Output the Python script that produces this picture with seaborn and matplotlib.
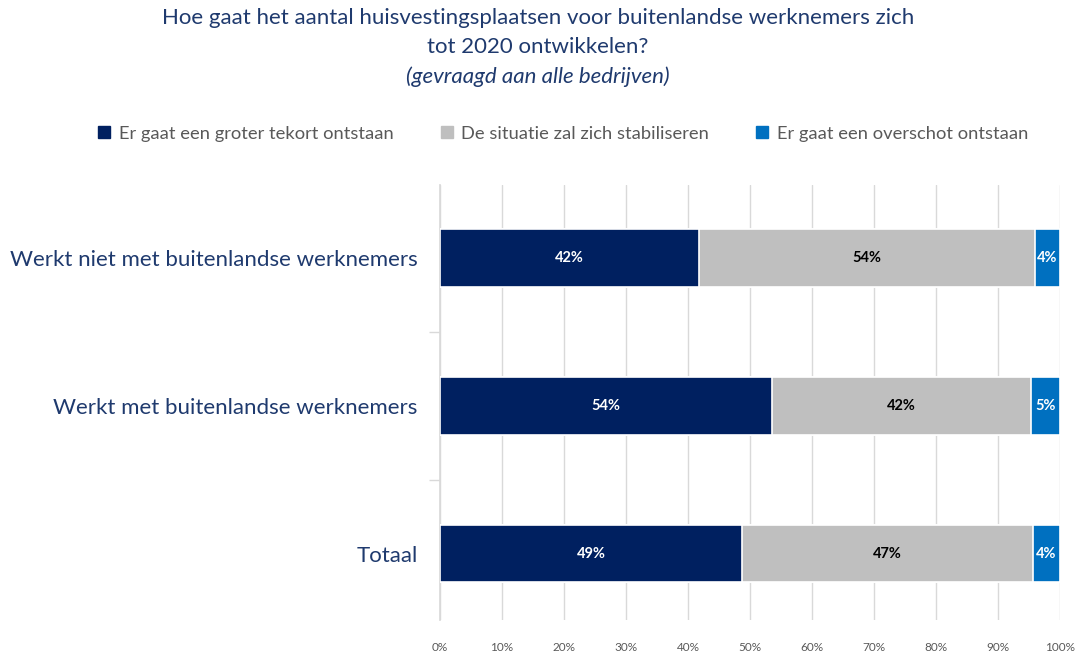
import pandas as pd
import matplotlib.pyplot as plt
import seaborn as sns
from matplotlib.lines import Line2D
from matplotlib.ticker import PercentFormatter

# data
groups = ['Werkt niet met buitenlandse werknemers',
          'Werkt met buitenlandse werknemers',
          'Totaal']
series = ['Er gaat een groter tekort ontstaan',
          'De situatie zal zich stabiliseren',
          'Er gaat een overschot ontstaan']
tekort = [41.8, 53.5, 48.7]
stabiel = [54.2, 41.8, 46.9]
overschot = [4.0, 4.7, 4.4]

colors = ['#002060', '#BFBFBF', '#0070C0']
text_colors = ['white', 'black', 'white']
navy = '#1F3A6E'

sns.set_theme(style='white')
plt.rcParams['font.family'] = ['Lato', 'DejaVu Sans']

df = pd.DataFrame({'Groep': groups, 'tekort': tekort,
                   'stabiel': stabiel, 'overschot': overschot})
df['c1'] = df['tekort']
df['c2'] = df['tekort'] + df['stabiel']
df['c3'] = df['c2'] + df['overschot']

fig = plt.figure(figsize=(10.76, 6.52), dpi=100)
ax = fig.add_axes([0.409, 0.049, 0.576, 0.667])

# stacked bars: draw cumulative totals back to front
for col, c in zip(['c3', 'c2', 'c1'], colors[::-1]):
    sns.barplot(data=df, y='Groep', x=col, color=c, orient='h',
                width=0.39, edgecolor='white', linewidth=1.2, ax=ax,
                zorder=3, saturation=1)

# labels in the segments
for i, g in enumerate(groups):
    vals = [tekort[i], stabiel[i], overschot[i]]
    start = 0
    for v, tc in zip(vals, text_colors):
        ax.text(start + v / 2, i, f'{v:.0f}%', ha='center', va='center',
                color=tc, fontsize=10.5, fontweight='bold', zorder=4)
        start += v

ax.set_xlim(0, 100)
ax.set_ylim(2.45, -0.495)
ax.set_xticks(range(0, 101, 10))
ax.xaxis.set_major_formatter(PercentFormatter(decimals=0))
ax.grid(axis='x', color='#D9D9D9', linewidth=1, zorder=0)
ax.set_axisbelow(True)
for s in ['top', 'right', 'bottom']:
    ax.spines[s].set_visible(False)
ax.spines['left'].set_color('#D9D9D9')
ax.set_xlabel('')
ax.set_ylabel('')
ax.tick_params(axis='x', colors='#595959', labelsize=8.5, length=0, pad=16)
ax.tick_params(axis='y', colors=navy, labelsize=16, length=0, pad=16)
ax.set_yticks([0.5, 1.5], minor=True)
ax.tick_params(axis='y', which='minor', length=8, color='#D9D9D9', left=True)

fig.text(0.5, 0.988, 'Hoe gaat het aantal huisvestingsplaatsen voor buitenlandse werknemers zich\ntot 2020 ontwikkelen?',
         ha='center', va='top', fontsize=16, color=navy, linespacing=1.55)
fig.text(0.5, 0.882, '(gevraagd aan alle bedrijven)', ha='center', va='center',
         fontsize=16, color=navy, style='italic')

handles = [Line2D([], [], marker='s', linestyle='', color=c, markersize=8) for c in colors]
fig.legend(handles, series, loc='center', bbox_to_anchor=(0.522, 0.795), ncol=3,
           frameon=False, fontsize=13.2, labelcolor='#595959', handletextpad=0.3,
           columnspacing=2.4, handlelength=1)

plt.savefig('out.png', dpi=100)
